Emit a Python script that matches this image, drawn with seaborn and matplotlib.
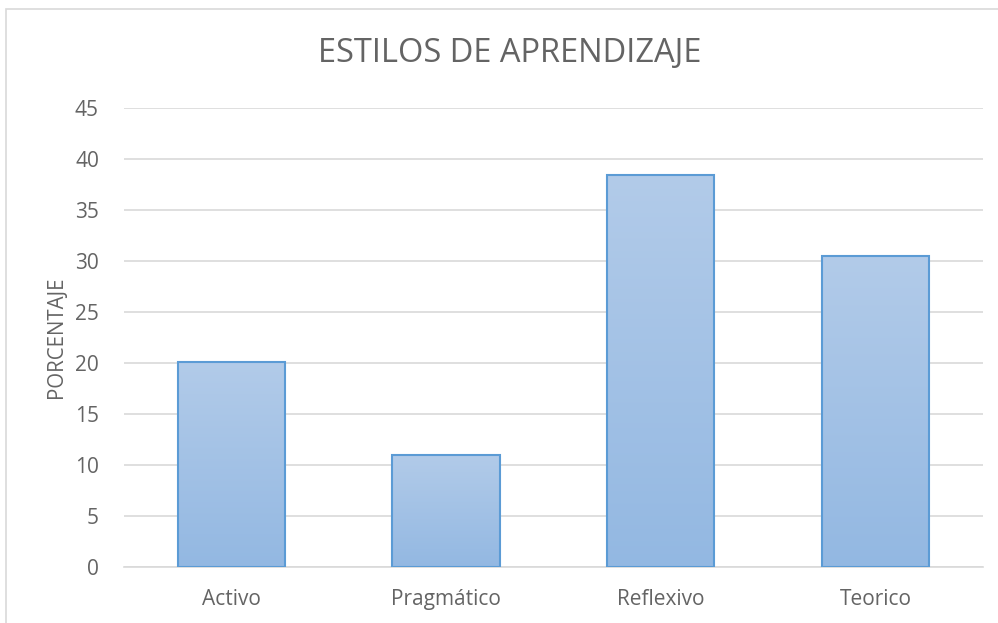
import matplotlib
matplotlib.use("Agg")
import matplotlib.pyplot as plt
from matplotlib.patches import Rectangle
import numpy as np
import pandas as pd
import seaborn as sns

categorias = ["Activo", "Pragmático", "Reflexivo", "Teorico"]
porcentajes = [20.1, 11.0, 38.4, 30.5]

df = pd.DataFrame({"estilo": categorias, "porcentaje": porcentajes})

sns.set_style("white")
plt.rcParams["font.family"] = ["Open Sans", "DejaVu Sans"]
gris = "#646464"

fig = plt.figure(figsize=(9.98, 6.23), dpi=100)
ax = fig.add_axes([0.1242, 0.0899, 0.8607, 0.7367])

sns.barplot(data=df, x="estilo", y="porcentaje", ax=ax, width=0.5,
            color="#a4c2e6", edgecolor="#5b9bd5", linewidth=1.5, zorder=3)

# gradient fill inside each bar
grad = np.linspace(0, 1, 256).reshape(-1, 1)
cmap = matplotlib.colors.LinearSegmentedColormap.from_list("g", ["#93b8e2", "#b2cbe9"])
for p in ax.patches:
    x0, y0 = p.get_x(), p.get_y()
    w, h = p.get_width(), p.get_height()
    im = ax.imshow(grad, cmap=cmap, aspect="auto", origin="lower",
                   extent=[x0, x0 + w, y0, y0 + h], zorder=3.5)
    im.set_clip_path(p)
    p.set_facecolor("none")
    p.set_zorder(4)

ax.set_xlim(-0.5, 3.5)
ax.set_ylim(0, 45)
ax.set_yticks(range(0, 46, 5))
ax.grid(axis="y", color="#d9d9d9", linewidth=1.2, zorder=0)
ax.set_axisbelow(True)
for s in ["top", "right", "left"]:
    ax.spines[s].set_visible(False)
ax.spines["bottom"].set_color("#d9d9d9")
ax.spines["bottom"].set_linewidth(1.2)
ax.tick_params(axis="both", length=0, labelsize=15, colors=gris)
ax.tick_params(axis="y", pad=18)
ax.tick_params(axis="x", pad=16)

ax.set_xlabel("")
ax.set_ylabel("PORCENTAJE", fontsize=14.8, color=gris, labelpad=6)
fig.text(0.511, 0.914, "ESTILOS DE APRENDIZAJE", ha="center", va="center",
         fontsize=23.5, color=gris)

fig.patches.append(Rectangle((6 / 998, -0.1), 1.2, 1 - 9 / 623 + 0.1,
                             transform=fig.transFigure, fill=False,
                             edgecolor="#d9d9d9", linewidth=1.2))

fig.savefig("out.png", dpi=100)
